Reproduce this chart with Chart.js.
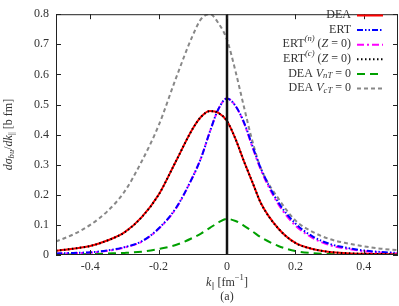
<!DOCTYPE html>
<html>
<head>
<meta charset="utf-8">
<script src="https://cdn.jsdelivr.net/npm/chart.js@4.4.0/dist/chart.umd.min.js"></script>
<style>
body { margin: 0; background: #fff; }
#wrap { width: 399px; height: 306px; }
</style>
</head>
<body>
<div id="wrap"><canvas id="chart1"></canvas></div>
<script>
// k_par values (fm^-1), shared by all curves
const kValues = [-0.5, -0.45, -0.4, -0.35, -0.3, -0.25, -0.2, -0.15, -0.1, -0.075, -0.05, -0.025, 0,
	0.025, 0.05, 0.075, 0.1, 0.15, 0.2, 0.25, 0.3, 0.35, 0.4, 0.45, 0.5];

// d sigma / dk  [b fm]
const dea = [0.014, 0.021, 0.030, 0.048, 0.075, 0.125, 0.20, 0.31, 0.42, 0.46, 0.478, 0.472, 0.445,
	0.385, 0.31, 0.24, 0.17, 0.088, 0.04, 0.02, 0.01, 0.006, 0.004, 0.003, 0.002];
const ert = [0.005, 0.007, 0.009, 0.015, 0.026, 0.045, 0.088, 0.155, 0.26, 0.325, 0.41, 0.485, 0.52,
	0.495, 0.44, 0.36, 0.285, 0.175, 0.105, 0.062, 0.037, 0.024, 0.015, 0.01, 0.007];
const ertN = [0.004, 0.006, 0.008, 0.014, 0.025, 0.044, 0.087, 0.153, 0.26, 0.325, 0.41, 0.485, 0.52,
	0.495, 0.437, 0.356, 0.28, 0.169, 0.098, 0.057, 0.033, 0.021, 0.013, 0.008, 0.005];
const ertC = [0.014, 0.021, 0.030, 0.048, 0.075, 0.125, 0.20, 0.31, 0.42, 0.46, 0.478, 0.472, 0.445,
	0.385, 0.31, 0.24, 0.17, 0.088, 0.04, 0.02, 0.01, 0.006, 0.004, 0.003, 0.002];
const deaVnT = [0.001, 0.002, 0.003, 0.005, 0.007, 0.011, 0.02, 0.033, 0.057, 0.072, 0.09, 0.108, 0.12,
	0.113, 0.097, 0.078, 0.058, 0.03, 0.013, 0.006, 0.003, 0.002, 0.001, 0.001, 0.001];
const deaVcT = [0.045, 0.068, 0.10, 0.145, 0.21, 0.31, 0.43, 0.585, 0.73, 0.785, 0.80, 0.77, 0.715,
	0.61, 0.49, 0.375, 0.285, 0.188, 0.115, 0.077, 0.053, 0.039, 0.029, 0.021, 0.016];

const xTicks = [-0.4, -0.2, 0, 0.2, 0.4];
const yTicks = [0, 0.1, 0.2, 0.3, 0.4, 0.5, 0.6, 0.7, 0.8];

const serif = '"Liberation Serif", "DejaVu Serif", serif';
const toPts = ys => ys.map((y, i) => ({x: kValues[i], y: y}));

// legend entries (drawn by hand so the sample sits right of the text)
// each label is a list of [text, style, baseline shift, size factor]
const legendRows = [
	{label: [['DEA', 'n', 0, 1]], color: '#ff0000', dash: []},
	{label: [['ERT', 'n', 0, 1]], color: '#0000ff', dash: [6, 2, 1.5, 2, 1.5, 2]},
	{label: [['ERT', 'n', 0, 1], ['(n)', 'i', -5, 0.72], [' (', 'n', 0, 1], ['Z', 'i', 0, 1], [' = 0)', 'n', 0, 1]], color: '#ff00ff', dash: [7, 3, 2, 3]},
	{label: [['ERT', 'n', 0, 1], ['(c)', 'i', -5, 0.72], [' (', 'n', 0, 1], ['Z', 'i', 0, 1], [' = 0)', 'n', 0, 1]], color: '#000000', dash: [1.5, 2.5]},
	{label: [['DEA ', 'n', 0, 1], ['V', 'i', 0, 1], ['nT', 'i', 2.5, 0.72], [' = 0', 'n', 0, 1]], color: '#00a000', dash: [8, 5]},
	{label: [['DEA ', 'n', 0, 1], ['V', 'i', 0, 1], ['cT', 'i', 2.5, 0.72], [' = 0', 'n', 0, 1]], color: '#888888', dash: [4, 3]}
];

const fontOf = (style, size) => (style === 'i' ? 'italic ' : '') + size + 'px ' + serif;

const runWidth = (ctx, parts, size) => {
	let w = 0;
	parts.forEach(p => {
		ctx.font = fontOf(p[1], size * p[3]);
		w += ctx.measureText(p[0]).width;
	});
	return w;
};

const drawRun = (ctx, parts, x, y, size) => {
	parts.forEach(p => {
		ctx.font = fontOf(p[1], size * p[3]);
		ctx.fillText(p[0], x, y + p[2]);
		x += ctx.measureText(p[0]).width;
	});
};

const decorPlugin = {
	id: 'decor',
	afterDatasetsDraw(chart) {
		const ctx = chart.ctx;
		const a = chart.chartArea;
		const xs = chart.scales.x, ys = chart.scales.y;
		ctx.save();
		// frame
		ctx.strokeStyle = '#222';
		ctx.lineWidth = 1;
		ctx.setLineDash([]);
		ctx.strokeRect(a.left + 0.5, a.top + 0.5, a.right - a.left - 1, a.bottom - a.top - 1);
		// inward ticks, mirrored
		ctx.beginPath();
		xTicks.forEach(v => {
			const px = Math.round(xs.getPixelForValue(v)) + 0.5;
			ctx.moveTo(px, a.bottom); ctx.lineTo(px, a.bottom - 5);
			ctx.moveTo(px, a.top); ctx.lineTo(px, a.top + 5);
		});
		yTicks.forEach(v => {
			const py = Math.round(ys.getPixelForValue(v)) + 0.5;
			ctx.moveTo(a.left, py); ctx.lineTo(a.left + 5, py);
			ctx.moveTo(a.right, py); ctx.lineTo(a.right - 5, py);
		});
		ctx.stroke();

		// legend
		ctx.fillStyle = '#333';
		ctx.textBaseline = 'middle';
		const size = 12;
		legendRows.forEach((row, i) => {
			const y = 15 + i * 14.6;
			const w = runWidth(ctx, row.label, size);
			drawRun(ctx, row.label, 351 - w, y, size);
			ctx.strokeStyle = row.color;
			ctx.lineWidth = 2;
			ctx.setLineDash(row.dash);
			ctx.beginPath();
			ctx.moveTo(357, y + 0.5);
			ctx.lineTo(383, y + 0.5);
			ctx.stroke();
		});
		ctx.setLineDash([]);

		// x title
		const xt = [['k', 'i', 0, 1], ['||', 'n', 3, 0.62], [' [fm', 'n', 0, 1], ['\u22121', 'n', -5, 0.72], [']', 'n', 0, 1]];
		const cx = xs.getPixelForValue(0);
		drawRun(ctx, xt, cx - runWidth(ctx, xt, size) / 2, 283, size);
		const at = [['(a)', 'n', 0, 1]];
		drawRun(ctx, at, cx - runWidth(ctx, at, size) / 2, 297, size);

		// y title, rotated
		const yt = [['d\u03c3', 'i', 0, 1], ['bu', 'i', 3, 0.72], ['/', 'n', 0, 1], ['dk', 'i', 0, 1], ['||', 'n', 3, 0.62], [' [b fm]', 'n', 0, 1]];
		ctx.translate(9, (a.top + a.bottom) / 2);
		ctx.rotate(-Math.PI / 2);
		drawRun(ctx, yt, -runWidth(ctx, yt, size) / 2, 0, size);
		ctx.restore();
	}
};

const line = (label, data, color, dash, order) => ({
	label: label,
	data: toPts(data),
	borderColor: color,
	borderWidth: 2,
	borderDash: dash,
	pointRadius: 0,
	fill: false,
	cubicInterpolationMode: 'monotone',
	order: order
});

const ctx = document.getElementById('chart1');
const myChart = new Chart(ctx, {
	type: 'line',
	data: {
		datasets: [
			{
				label: 'k = 0',
				data: [{x: 0, y: 0}, {x: 0, y: 0.8}],
				borderColor: '#111',
				borderWidth: 2.5,
				pointRadius: 0,
				order: 0
			},
			line('DEA', dea, '#ff0000', [], 2),
			line('ERT', ert, '#0000ff', [6, 2, 1.5, 2, 1.5, 2], 3),
			line('ERT(n) (Z = 0)', ertN, '#ff00ff', [7, 3, 2, 3], 4),
			line('ERT(c) (Z = 0)', ertC, '#000000', [1.5, 2.5], 1),
			line('DEA VnT = 0', deaVnT, '#00a000', [8, 5], 5),
			line('DEA VcT = 0', deaVcT, '#888888', [4, 3], 6)
		]
	},
	options: {
		responsive: true,
		maintainAspectRatio: false,
		animation: false,
		layout: {padding: {top: 5, right: 1, left: 0, bottom: 0}},
		plugins: {
			legend: {display: false},
			tooltip: {enabled: false}
		},
		scales: {
			x: {
				type: 'linear',
				min: -0.5,
				max: 0.5,
				afterBuildTicks: scale => { scale.ticks = xTicks.map(v => ({value: v})); },
				afterFit: scale => { scale.height = 51; },
				grid: {display: false, drawTicks: false},
				border: {display: false},
				ticks: {
					padding: 5,
					color: '#333',
					font: {family: serif, size: 12},
					callback: v => String(v)
				}
			},
			y: {
				min: 0,
				max: 0.8,
				afterBuildTicks: scale => { scale.ticks = yTicks.map(v => ({value: v})); },
				afterFit: scale => { scale.width = 56; },
				grid: {display: false, drawTicks: false},
				border: {display: false},
				ticks: {
					padding: 7,
					color: '#333',
					font: {family: serif, size: 12},
					callback: v => String(v)
				}
			}
		}
	},
	plugins: [decorPlugin]
});
</script>
</body>
</html>
